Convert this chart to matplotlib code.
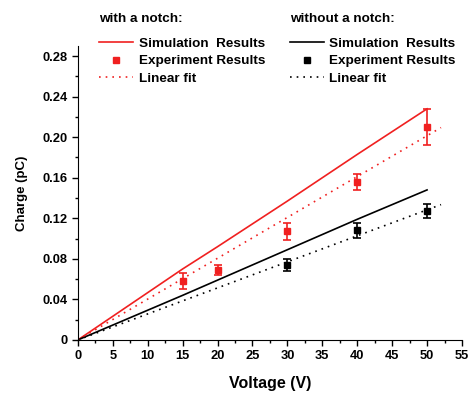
import matplotlib
matplotlib.use("Agg")
import matplotlib.pyplot as plt
from matplotlib.ticker import MultipleLocator, FuncFormatter
from matplotlib.lines import Line2D

plt.rcParams['font.family'] = ['Liberation Sans', 'DejaVu Sans']
plt.rcParams['font.weight'] = 'bold'

# Simulation results
sim_v = [0, 15, 20, 30, 40, 50]
sim_notch = [0, 0.070, 0.092, 0.137, 0.183, 0.228]
sim_plain = [0, 0.044, 0.059, 0.089, 0.119, 0.148]

# Experiment results
exp_v_notch = [15, 20, 30, 40, 50]
exp_notch = [0.058, 0.069, 0.107, 0.156, 0.210]
err_notch = [0.008, 0.005, 0.008, 0.008, 0.018]

exp_v_plain = [30, 40, 50]
exp_plain = [0.074, 0.108, 0.127]
err_plain = [0.006, 0.007, 0.007]

# Linear fits
fit_v = [0, 52]
fit_notch = [0, 0.2095]
fit_plain = [0, 0.1335]

red = '#f02020'
black = '#000000'

fig = plt.figure(figsize=(4.69, 3.93), dpi=100)
ax = fig.add_axes([0.166, 0.135, 0.819, 0.748])

ax.plot(sim_v, sim_notch, color=red, lw=1.2)
ax.plot(sim_v, sim_plain, color=black, lw=1.2)
ax.plot(fit_v, fit_notch, color=red, lw=1.2, ls=(0, (1, 3)))
ax.plot(fit_v, fit_plain, color=black, lw=1.2, ls=(0, (1, 3)))
ax.errorbar(exp_v_notch, exp_notch, yerr=err_notch, fmt='s', color=red,
            ms=5, capsize=3, elinewidth=1.2, capthick=1.2)
ax.errorbar(exp_v_plain, exp_plain, yerr=err_plain, fmt='s', color=black,
            ms=5, capsize=3, elinewidth=1.2, capthick=1.2)

ax.set_xlim(0, 55)
ax.set_ylim(0, 0.29)
ax.xaxis.set_major_locator(MultipleLocator(5))
ax.xaxis.set_minor_locator(MultipleLocator(2.5))
ax.yaxis.set_major_locator(MultipleLocator(0.04))
ax.yaxis.set_minor_locator(MultipleLocator(0.02))
ax.yaxis.set_major_formatter(FuncFormatter(lambda v, p: '0' if abs(v) < 1e-9 else f'{v:.2f}'))
ax.xaxis.set_major_formatter(FuncFormatter(lambda v, p: f'{v:.0f}'))
for s in ['top', 'right']:
    ax.spines[s].set_visible(False)
ax.tick_params(which='major', direction='out', length=4, width=1, labelsize=9.3)
ax.tick_params(which='minor', direction='out', length=2.5, width=1)
for lab in ax.get_xticklabels() + ax.get_yticklabels():
    lab.set_fontweight('bold')

ax.set_xlabel('Voltage (V)', fontsize=11.5, fontweight='bold', labelpad=10)
ax.set_ylabel('Charge (pC)', fontsize=9.5, fontweight='bold', labelpad=10)

h1 = [Line2D([], [], color=red, lw=1.2),
      Line2D([], [], color=red, marker='s', ms=4, ls='none'),
      Line2D([], [], color=red, lw=1.2, ls=(0, (1, 3)))]
h2 = [Line2D([], [], color=black, lw=1.2),
      Line2D([], [], color=black, marker='s', ms=4, ls='none'),
      Line2D([], [], color=black, lw=1.2, ls=(0, (1, 3)))]
labels = ['Simulation  Results', 'Experiment Results', 'Linear fit']

legs = []
for handles, title, x0 in [(h1, 'with a notch:', 0.184), (h2, 'without a notch:', 0.59)]:
    leg = fig.legend(handles, labels, title=title, loc='upper left',
                     bbox_to_anchor=(x0, 1.0), frameon=False, fontsize=9.7,
                     title_fontsize=9.7, alignment='left',
                     handlelength=2.5, handletextpad=0.4,
                     labelspacing=0.36, borderaxespad=0.58)
    leg._legend_box.sep = 9
    leg.get_title().set_fontweight('bold')
    for t in leg.get_texts():
        t.set_fontweight('bold')
    legs.append(leg)

fig.savefig('out.png', dpi=100)
